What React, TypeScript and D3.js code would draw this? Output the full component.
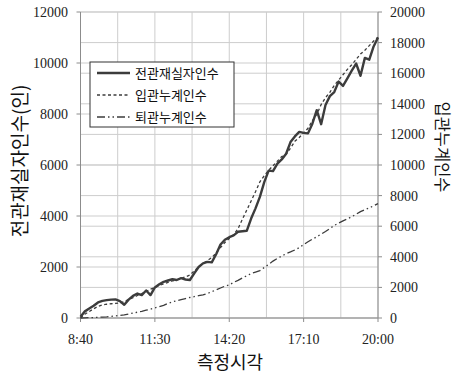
import React from "react";
import * as d3 from "d3";

// Measurement times, every 10 minutes from 8:40 to 20:00
const startMinutes = 8 * 60 + 40;
const times: number[] = d3.range(0, 69).map((i) => startMinutes + i * 10);

// Visitors currently inside the hall (left axis)
const occupancy = [
  50, 260, 370, 480, 610, 670, 700, 720, 730, 660,
  520, 720, 870, 960, 900, 1080, 900, 1200, 1320, 1420,
  1470, 1520, 1490, 1560, 1510, 1490, 1750, 2000, 2140, 2200,
  2180, 2500, 2880, 3070, 3170, 3240, 3380, 3400, 3420, 3900,
  4300, 4750, 5330, 5780, 5760, 6050, 6220, 6440, 6900, 7120,
  7300, 7260, 7240, 7620, 8150, 7600, 8350, 8700, 8860, 9270,
  9100, 9400, 9700, 9980, 9500, 10200, 10130, 10650, 11000,
];

// Cumulative entries (right axis)
const entries = [
  0, 250, 420, 600, 760, 850, 900, 930, 950, 980,
  1080, 1200, 1330, 1470, 1600, 1740, 1880, 2000, 2120, 2230,
  2330, 2420, 2500, 2590, 2690, 2810, 3080, 3330, 3560, 3750,
  3950, 4250, 4600, 4930, 5200, 5450, 5830, 6450, 7050, 7650,
  8250, 8900, 9300, 9650, 9950, 10250, 10550, 10700, 11100, 11550,
  11800, 12100, 12400, 12900, 13300, 13950, 14400, 14750, 15200, 15550,
  15900, 16250, 16550, 16900, 17250, 17500, 17800, 18100, 18350,
];

// Cumulative exits (right axis)
const exits = [
  0, 10, 20, 30, 40, 60, 80, 110, 140, 160,
  200, 260, 320, 380, 440, 510, 580, 660, 740, 820,
  960, 1050, 1130, 1200, 1270, 1340, 1400, 1460, 1510, 1600,
  1720, 1840, 1960, 2080, 2160, 2330, 2460, 2620, 2760, 2900,
  3000, 3100, 3300, 3500, 3720, 3900, 4050, 4200, 4320, 4450,
  4600, 4800, 4980, 5150, 5310, 5480, 5650, 5850, 6050, 6200,
  6350, 6480, 6620, 6780, 6950, 7080, 7200, 7330, 7480,
];

const leftTicks = [0, 2000, 4000, 6000, 8000, 10000, 12000];
const rightTicks = [0, 2000, 4000, 6000, 8000, 10000, 12000, 14000, 16000, 18000, 20000];
const xTickLabels = ["8:40", "11:30", "14:20", "17:10", "20:00"];
const xGridMinutes = d3.range(0, 9).map((i) => startMinutes + i * 85);

const legendItems = [
  { label: "전관재실자인수", dash: "none", width: 2.4 },
  { label: "입관누계인수", dash: "3 2.5", width: 1.3 },
  { label: "퇴관누계인수", dash: "8 3 1.5 3 1.5 3", width: 1.3 },
];

const W = 455;
const H = 376;
const plot = { left: 80.5, right: 378, top: 12, bottom: 318 };
const lineColor = "#3c3c3c";
const gridColor = "#cdcdcd";
const axisColor = "#8c8c8c";
const serif = "'Liberation Serif', 'Times New Roman', serif";
const korean = "'Noto Sans CJK KR', 'Noto Sans', sans-serif";

export default function App() {
  const x = d3.scaleLinear().domain([startMinutes, startMinutes + 680]).range([plot.left, plot.right]);
  const yL = d3.scaleLinear().domain([0, 12000]).range([plot.bottom, plot.top]);
  const yR = d3.scaleLinear().domain([0, 20000]).range([plot.bottom, plot.top]);

  const lineL = d3.line<number>().x((_, i) => x(times[i])).y((v) => yL(v));
  const lineR = d3.line<number>().x((_, i) => x(times[i])).y((v) => yR(v));

  const legend = { x: 90, y: 62, w: 144, h: 65 };

  return (
    <svg width={W} height={H} style={{ position: "absolute", left: 0, top: 0, background: "#fff" }}>
      {/* horizontal gridlines for both axes */}
      {rightTicks.map((t) => (
        <line key={"gr" + t} x1={plot.left} x2={plot.right} y1={yR(t)} y2={yR(t)} stroke={gridColor} strokeWidth={1} />
      ))}
      {leftTicks.map((t) => (
        <line key={"gl" + t} x1={plot.left} x2={plot.right} y1={yL(t)} y2={yL(t)} stroke={gridColor} strokeWidth={1} />
      ))}
      {/* vertical gridlines */}
      {xGridMinutes.map((m) => (
        <line key={"gx" + m} x1={x(m)} x2={x(m)} y1={plot.top} y2={plot.bottom} stroke={gridColor} strokeWidth={1} />
      ))}

      {/* axes */}
      <line x1={plot.left} x2={plot.left} y1={plot.top} y2={plot.bottom} stroke={axisColor} />
      <line x1={plot.right} x2={plot.right} y1={plot.top} y2={plot.bottom} stroke={axisColor} />
      <line x1={plot.left} x2={plot.right} y1={plot.bottom} y2={plot.bottom} stroke={axisColor} />

      {leftTicks.map((t) => (
        <g key={"lt" + t}>
          <line x1={plot.left - 4} x2={plot.left} y1={yL(t)} y2={yL(t)} stroke={axisColor} />
          <text x={68} y={yL(t)} dy="0.35em" textAnchor="end" fontFamily={serif} fontSize={14} fill="#222">
            {t}
          </text>
        </g>
      ))}
      {rightTicks.map((t) => (
        <g key={"rt" + t}>
          <line x1={plot.right} x2={plot.right + 4} y1={yR(t)} y2={yR(t)} stroke={axisColor} />
          <text x={390} y={yR(t)} dy="0.35em" textAnchor="start" fontFamily={serif} fontSize={14} fill="#222">
            {t}
          </text>
        </g>
      ))}
      {xTickLabels.map((lab, i) => {
        const m = startMinutes + i * 170;
        return (
          <g key={"xt" + lab}>
            <line x1={x(m)} x2={x(m)} y1={plot.bottom} y2={plot.bottom + 4} stroke={axisColor} />
            <text x={x(m)} y={344} textAnchor="middle" fontFamily={serif} fontSize={14} fill="#222">
              {lab}
            </text>
          </g>
        );
      })}

      {/* series */}
      <path d={lineR(exits) ?? ""} fill="none" stroke={lineColor} strokeWidth={1.3} strokeDasharray="8 3 1.5 3 1.5 3" />
      <path d={lineR(entries) ?? ""} fill="none" stroke={lineColor} strokeWidth={1.3} strokeDasharray="3 2.5" />
      <path d={lineL(occupancy) ?? ""} fill="none" stroke={lineColor} strokeWidth={2.4} strokeLinejoin="round" />

      {/* legend */}
      <rect x={legend.x} y={legend.y} width={legend.w} height={legend.h} fill="#fff" stroke="#333" strokeWidth={1} />
      {legendItems.map((it, i) => {
        const cy = 73 + i * 22;
        return (
          <g key={it.label}>
            <line x1={97} x2={130} y1={cy} y2={cy} stroke={lineColor} strokeWidth={it.width} strokeDasharray={it.dash} />
            <text x={135} y={cy} dy="0.35em" fontFamily={korean} fontSize={13} fill="#111">
              {it.label}
            </text>
          </g>
        );
      })}

      {/* axis titles */}
      <text
        transform={`translate(20,161) rotate(-90)`}
        textAnchor="middle"
        dy="0.35em"
        fontFamily={korean}
        fontSize={19}
        fill="#111"
      >
        전관재실자인수(인)
      </text>
      <text
        transform={`translate(441.5,147) rotate(90)`}
        textAnchor="middle"
        dy="0.35em"
        fontFamily={korean}
        fontSize={16.5}
        fill="#111"
      >
        입관누계인수
      </text>
      <text x={230} y={363} dy="0.35em" textAnchor="middle" fontFamily={korean} fontSize={18} fill="#111">
        측정시각
      </text>
    </svg>
  );
}
